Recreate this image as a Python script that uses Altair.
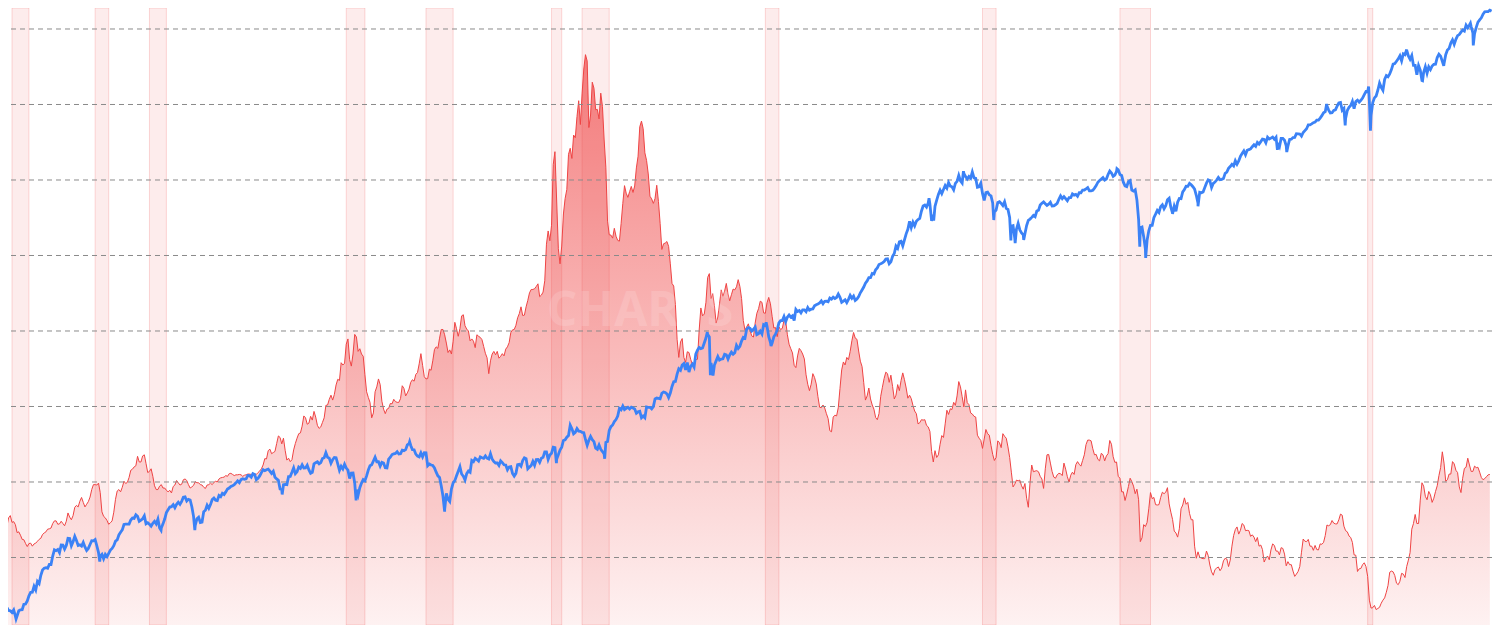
import altair as alt
import pandas as pd

# ---------------- 10-year Treasury yield, monthly (%), Apr 1953 -> Feb 2026 ----------------
yield_1950s = [2.83,3.05,3.11,2.93,2.95,2.87,2.66,2.68,2.59,
    2.48,2.47,2.37,2.29,2.37,2.38,2.30,2.36,2.38,2.43,2.48,2.51,
    2.61,2.65,2.68,2.75,2.76,2.78,2.90,2.97,2.97,2.88,2.89,2.96,
    2.90,2.84,2.96,3.18,3.07,3.00,3.11,3.33,3.38,3.34,3.49,3.59,
    3.46,3.34,3.41,3.48,3.60,3.80,3.93,3.93,3.92,3.97,3.72,3.21,
    3.09,3.05,2.98,2.88,2.92,2.97,3.20,3.54,3.76,3.80,3.74,3.86,
    4.02,3.96,3.99,4.12,4.31,4.34,4.40,4.43,4.68,4.53,4.53,4.69]
yield_1960s = [4.72,4.49,4.25,4.28,4.35,4.15,3.90,3.80,3.80,3.89,3.93,3.84,
    3.84,3.78,3.74,3.78,3.71,3.88,3.92,4.04,3.98,3.92,3.94,4.06,
    4.08,4.04,3.93,3.84,3.87,3.91,4.01,3.98,3.98,3.93,3.92,3.86,
    3.83,3.92,3.93,3.97,3.93,3.99,4.02,4.00,4.08,4.11,4.12,4.13,
    4.17,4.15,4.22,4.23,4.20,4.17,4.19,4.19,4.20,4.19,4.15,4.18,
    4.19,4.21,4.21,4.20,4.21,4.21,4.20,4.25,4.29,4.35,4.45,4.62,
    4.61,4.83,4.87,4.75,4.78,4.81,5.02,5.22,5.18,5.01,5.16,4.84,
    4.58,4.63,4.54,4.59,4.85,5.02,5.16,5.28,5.30,5.48,5.75,5.70,
    5.53,5.56,5.74,5.64,5.87,5.72,5.50,5.42,5.46,5.58,5.70,6.03,
    6.04,6.19,6.30,6.17,6.32,6.57,6.72,6.69,7.16,7.10,7.14,7.65]
yield_1970s = [7.79,7.24,7.07,7.39,7.91,7.84,7.46,7.53,7.39,7.33,6.84,6.39,
    6.24,6.11,5.70,5.83,6.39,6.52,6.73,6.58,6.14,5.93,5.81,5.93,
    5.95,6.08,6.07,6.19,6.13,6.11,6.11,6.21,6.55,6.48,6.28,6.36,
    6.46,6.64,6.71,6.67,6.85,6.90,7.13,7.40,7.09,6.79,6.73,6.74,
    6.99,6.96,7.21,7.51,7.58,7.54,7.81,8.04,8.04,7.90,7.68,7.43,
    7.50,7.39,7.73,8.23,8.06,7.86,8.06,8.40,8.43,8.14,8.05,8.00,
    7.74,7.79,7.73,7.56,7.90,7.86,7.83,7.77,7.59,7.41,7.29,6.87,
    7.21,7.39,7.46,7.37,7.46,7.28,7.33,7.40,7.34,7.52,7.58,7.69,
    7.96,8.03,8.04,8.15,8.35,8.46,8.64,8.41,8.42,8.64,8.81,9.01,
    9.10,9.10,9.12,9.18,9.25,8.91,8.95,9.03,9.33,10.30,10.65,10.39]
yield_1980s = [10.80,12.41,12.75,11.47,10.18,9.78,10.25,11.10,11.51,11.75,12.68,12.84,
    12.57,13.19,13.12,13.68,14.10,13.47,14.28,14.94,15.32,15.15,13.39,13.72,
    14.59,14.43,13.86,13.87,13.62,14.30,13.95,13.06,12.34,10.91,10.55,10.54,
    10.46,10.72,10.51,10.40,10.38,10.85,11.38,11.85,11.65,11.54,11.69,11.83,
    11.67,11.84,12.32,12.63,13.41,13.56,13.36,12.72,12.52,12.16,11.57,11.50,
    11.38,11.51,11.86,11.43,10.85,10.16,10.31,10.33,10.37,10.24,9.78,9.26,
    9.19,8.70,7.78,7.30,7.71,7.80,7.30,7.17,7.45,7.43,7.25,7.11,
    7.08,7.25,7.25,8.02,8.61,8.40,8.45,8.76,9.42,9.52,8.86,8.99,
    8.67,8.21,8.37,8.72,9.09,8.92,9.06,9.26,8.98,8.80,8.96,9.11,
    9.09,9.17,9.36,9.18,8.86,8.28,8.02,8.11,8.19,8.01,7.87,7.84]
yield_1990s = [8.21,8.47,8.59,8.79,8.76,8.48,8.47,8.75,8.89,8.72,8.39,8.08,
    8.09,7.85,8.11,8.04,8.07,8.28,8.27,7.90,7.65,7.53,7.42,7.09,
    7.03,7.34,7.54,7.48,7.39,7.26,6.84,6.59,6.42,6.59,6.87,6.77,
    6.60,6.26,5.98,5.97,6.04,5.96,5.81,5.68,5.36,5.33,5.72,5.77,
    5.75,5.97,6.48,6.97,7.18,7.10,7.30,7.24,7.46,7.74,7.96,7.81,
    7.78,7.47,7.20,7.06,6.63,6.17,6.28,6.49,6.20,6.04,5.93,5.71,
    5.65,5.81,6.27,6.51,6.74,6.91,6.87,6.64,6.83,6.53,6.20,6.30,
    6.58,6.42,6.69,6.89,6.71,6.49,6.22,6.30,6.21,6.03,5.88,5.81,
    5.54,5.57,5.65,5.64,5.65,5.50,5.46,5.34,4.81,4.53,4.83,4.65,
    4.72,5.00,5.23,5.18,5.54,5.90,5.79,5.94,5.92,6.11,6.03,6.28]
yield_2000s = [6.66,6.52,6.26,5.99,6.44,6.10,6.05,5.83,5.80,5.74,5.72,5.24,
    5.16,5.10,4.89,5.14,5.39,5.28,5.24,4.97,4.73,4.57,4.65,5.09,
    5.04,4.91,5.28,5.21,5.16,4.93,4.65,4.26,3.87,3.94,4.05,4.03,
    4.05,3.90,3.81,3.96,3.57,3.33,3.98,4.45,4.27,4.29,4.30,4.27,
    4.15,4.08,3.83,4.35,4.72,4.73,4.50,4.28,4.13,4.10,4.19,4.23,
    4.22,4.17,4.50,4.34,4.14,4.00,4.18,4.26,4.20,4.46,4.54,4.47,
    4.42,4.57,4.72,4.99,5.11,5.11,5.09,4.88,4.72,4.73,4.60,4.56,
    4.76,4.72,4.56,4.69,4.75,5.10,5.00,4.67,4.52,4.53,4.15,4.10,
    3.74,3.74,3.51,3.68,3.88,4.10,4.01,3.89,3.69,3.81,3.53,2.42,
    2.52,2.87,2.82,2.93,3.29,3.72,3.56,3.59,3.40,3.39,3.40,3.59]
yield_2010s = [3.73,3.69,3.73,3.85,3.42,3.20,3.01,2.70,2.65,2.54,2.76,3.29,
    3.39,3.58,3.41,3.46,3.17,3.00,3.00,2.30,1.98,2.15,2.01,1.98,
    1.97,1.97,2.17,2.05,1.80,1.62,1.53,1.68,1.72,1.75,1.65,1.72,
    1.91,1.98,1.96,1.76,1.93,2.30,2.58,2.74,2.81,2.62,2.72,2.90,
    2.86,2.71,2.72,2.71,2.56,2.60,2.54,2.42,2.53,2.30,2.33,2.21,
    1.88,1.98,2.04,1.94,2.20,2.36,2.32,2.17,2.17,2.07,2.26,2.24,
    2.09,1.78,1.89,1.81,1.81,1.64,1.50,1.56,1.63,1.76,2.14,2.49,
    2.43,2.42,2.48,2.30,2.30,2.19,2.32,2.21,2.20,2.36,2.35,2.40,
    2.58,2.86,2.84,2.87,2.98,2.91,2.89,2.89,3.00,3.15,3.12,2.83,
    2.71,2.68,2.57,2.53,2.40,2.07,2.06,1.63,1.70,1.71,1.81,1.86]
yield_2020s = [1.76,1.50,0.87,0.66,0.67,0.73,0.62,0.65,0.68,0.79,0.87,0.93,
    1.08,1.26,1.61,1.64,1.62,1.52,1.32,1.28,1.37,1.58,1.56,1.47,
    1.76,1.93,2.13,2.75,2.90,3.14,2.90,2.90,3.52,3.98,3.89,3.62,
    3.53,3.75,3.66,3.46,3.57,3.75,3.90,4.17,4.38,4.80,4.50,4.02,
    4.06,4.21,4.21,4.54,4.48,4.31,4.25,3.87,3.72,4.10,4.36,4.39,
    4.63,4.45,4.28,4.28,4.42,4.38,4.39,4.26,4.12,4.06,4.09,4.14,
    4.19,4.20]
yield_start = 1953.25  # first monthly observation (Apr 1953)

# ---------------- S&P 500, month-end closes, Mar 1953 -> Jan 2026 ----------------
spx_1950s = [25.29,24.62,24.54,24.14,24.75,23.32,23.35,24.54,24.76,24.81,
    26.08,26.15,26.94,28.26,29.19,29.21,30.88,29.83,32.31,31.68,34.24,35.98,
    36.63,36.76,36.58,37.96,37.91,41.03,43.52,43.18,43.67,42.34,45.51,45.48,
    43.82,45.34,48.48,48.38,45.20,46.97,49.39,47.51,45.35,45.58,45.08,46.67,
    44.72,43.26,44.11,45.74,47.43,47.37,47.91,45.22,42.42,41.06,41.72,39.99,
    41.70,40.84,42.10,43.44,44.09,45.24,47.19,47.75,50.06,51.33,52.48,55.21,
    55.42,55.41,55.44,57.59,58.68,58.47,60.51,59.60,56.88,57.52,58.28,59.89]
spx_1960s = [55.61,56.12,55.34,54.37,55.83,56.92,55.51,58.07,53.39,53.39,55.54,58.11,
    61.78,63.44,65.06,65.31,66.56,64.64,66.76,68.07,66.73,68.62,71.32,71.55,
    68.84,69.96,69.55,65.24,59.63,54.75,58.23,59.12,56.27,56.52,62.26,63.10,
    66.20,64.29,66.57,69.80,70.80,69.37,69.13,72.50,71.70,74.01,73.23,75.02,
    77.04,77.80,78.98,79.46,80.37,81.69,83.18,81.83,84.18,84.86,84.42,84.75,
    87.56,87.43,86.16,89.11,88.42,84.12,85.25,87.17,89.96,92.42,91.61,92.43,
    92.88,91.22,89.23,91.06,86.13,84.74,83.60,77.10,76.56,80.20,80.45,80.33,
    86.61,86.78,90.20,94.01,89.08,90.64,94.75,93.64,96.71,93.90,94.00,96.47,
    92.24,89.36,90.20,97.59,98.68,99.58,97.74,98.86,102.67,103.41,108.37,103.86,
    103.01,98.13,101.51,103.69,103.46,97.71,91.83,95.51,93.12,97.24,93.81,92.06]
spx_1970s = [85.02,89.50,89.63,81.52,76.55,72.72,78.05,81.52,84.21,83.25,87.20,92.15,
    95.88,96.75,100.31,103.95,99.63,99.70,95.58,99.03,98.34,94.23,93.99,102.09,
    103.94,106.57,107.20,107.67,109.53,107.14,107.39,111.09,110.55,111.58,116.67,118.05,
    116.03,111.68,111.52,106.97,104.95,104.26,108.22,104.25,108.43,108.29,95.96,97.55,
    96.57,96.22,93.98,90.31,87.28,86.00,79.31,72.15,63.54,73.90,69.97,68.56,
    76.98,81.59,83.36,87.30,91.15,95.19,88.75,86.88,83.87,89.04,91.24,90.19,
    100.86,99.71,102.77,101.64,100.18,104.28,103.44,102.91,105.24,102.90,102.10,107.46,
    102.03,99.82,98.42,98.44,96.12,100.48,98.85,96.77,96.53,92.34,94.83,95.10,
    89.25,87.04,89.21,96.83,97.24,95.53,100.68,103.29,102.54,93.15,94.70,96.11,
    99.93,96.28,101.59,101.76,99.08,102.91,103.81,109.32,109.32,101.82,106.16,107.94]
spx_1980s = [114.16,113.66,102.09,106.29,111.24,114.24,121.67,122.38,125.46,127.47,140.52,135.76,
    129.55,131.27,136.00,132.81,132.59,131.21,130.92,122.79,116.18,121.89,126.35,122.55,
    120.40,113.11,111.96,116.44,111.88,109.61,107.09,119.51,120.42,133.71,138.54,140.64,
    145.30,148.06,152.96,164.42,162.39,168.11,162.56,164.40,166.07,163.55,166.40,164.93,
    163.41,157.06,159.18,160.05,150.55,153.18,150.66,166.68,166.10,166.09,163.58,167.24,
    179.63,181.18,180.66,179.83,189.55,191.85,190.92,188.63,182.08,189.82,202.17,211.28,
    211.78,226.92,238.90,235.52,247.35,250.84,236.12,252.93,231.32,243.98,249.22,242.17,
    274.08,284.20,291.70,288.36,290.10,304.00,318.66,329.80,321.83,251.79,230.30,247.08,
    257.07,267.82,258.89,261.33,262.16,273.50,272.02,261.52,271.91,278.97,273.70,277.72,
    297.47,288.86,294.87,309.64,320.52,317.98,346.08,351.45,349.15,340.36,345.99,353.40]
spx_1990s = [329.08,331.89,339.94,330.80,361.23,358.02,356.15,322.56,306.05,304.00,322.22,330.22,
    343.93,367.07,375.22,375.34,389.83,371.16,387.81,395.43,387.86,392.46,375.22,417.09,
    408.79,412.70,403.69,414.95,415.35,408.14,424.21,414.03,417.80,418.68,431.35,435.71,
    438.78,443.38,451.67,440.19,450.19,450.53,448.13,463.56,458.93,467.83,461.79,466.45,
    481.61,467.14,445.77,450.91,456.50,444.27,458.26,475.49,462.69,472.35,453.69,459.27,
    470.42,487.39,500.71,514.71,533.40,544.75,562.06,561.88,584.41,581.50,605.37,615.93,
    636.02,640.43,645.50,654.17,669.12,670.63,639.95,651.99,687.33,705.27,757.02,740.74,
    786.16,790.82,757.12,801.34,848.28,885.14,954.31,899.47,947.28,914.62,955.40,970.43,
    980.28,1049.34,1101.75,1111.75,1090.82,1133.84,1120.67,957.28,1017.01,1098.67,1163.63,1229.23,
    1279.64,1238.33,1286.37,1335.18,1301.84,1372.71,1328.72,1320.41,1282.71,1362.93,1388.91,1469.25]
spx_2000s = [1394.46,1366.42,1498.58,1452.43,1420.60,1454.60,1430.83,1517.68,1436.51,1429.40,1314.95,1320.28,
    1366.01,1239.94,1160.33,1249.46,1255.82,1224.38,1211.23,1133.58,1040.94,1059.78,1139.45,1148.08,
    1130.20,1106.73,1147.39,1076.92,1067.14,989.82,911.62,916.07,815.28,885.76,936.31,879.82,
    855.70,841.15,848.18,916.92,963.59,974.50,990.31,1008.01,995.97,1050.71,1058.20,1111.92,
    1131.13,1144.94,1126.21,1107.30,1120.68,1140.84,1101.72,1104.24,1114.58,1130.20,1173.82,1211.92,
    1181.27,1203.60,1180.59,1156.85,1191.50,1191.33,1234.18,1220.33,1228.81,1207.01,1249.48,1248.29,
    1280.08,1280.66,1294.87,1310.61,1270.09,1270.20,1276.66,1303.82,1335.85,1377.94,1400.63,1418.30,
    1438.24,1406.82,1420.86,1482.37,1530.62,1503.35,1455.27,1473.99,1526.75,1549.38,1481.14,1468.36,
    1378.55,1330.63,1322.70,1385.59,1400.38,1280.00,1267.38,1282.83,1166.36,968.75,896.24,903.25,
    825.88,735.09,797.87,872.81,919.14,919.32,987.48,1020.62,1057.08,1036.19,1095.63,1115.10]
spx_2010s = [1073.87,1104.49,1169.43,1186.69,1089.41,1030.71,1101.60,1049.33,1141.20,1183.26,1180.55,1257.64,
    1286.12,1327.22,1325.83,1363.61,1345.20,1320.64,1292.28,1218.89,1131.42,1253.30,1246.96,1257.60,
    1312.41,1365.68,1408.47,1397.91,1310.33,1362.16,1379.32,1406.58,1440.67,1412.16,1416.18,1426.19,
    1498.11,1514.68,1569.19,1597.57,1630.74,1606.28,1685.73,1632.97,1681.55,1756.54,1805.81,1848.36,
    1782.59,1859.45,1872.34,1883.95,1923.57,1960.23,1930.67,2003.37,1972.29,2018.05,2067.56,2058.90,
    1994.99,2104.50,2067.89,2085.51,2107.39,2063.11,2103.84,1972.18,1920.03,2079.36,2080.41,2043.94,
    1940.24,1932.23,2059.74,2065.30,2096.95,2098.86,2173.60,2170.95,2168.27,2126.15,2198.81,2238.83,
    2278.87,2363.64,2362.72,2384.20,2411.80,2423.41,2470.30,2471.65,2519.36,2575.26,2647.58,2673.61,
    2823.81,2713.83,2640.87,2648.05,2705.27,2718.37,2816.29,2901.52,2913.98,2711.74,2760.17,2506.85,
    2704.10,2784.49,2834.40,2945.83,2752.06,2941.76,2980.38,2926.46,2976.74,3037.56,3140.98,3230.78]
spx_2020s = [3225.52,2954.22,2584.59,2912.43,3044.31,3100.29,3271.12,3500.31,3363.00,3269.96,3621.63,3756.07,
    3714.24,3811.15,3972.89,4181.17,4204.11,4297.50,4395.26,4522.68,4307.54,4605.38,4567.00,4766.18,
    4515.55,4373.94,4530.41,4131.93,4132.15,3785.38,4130.29,3955.00,3585.62,3871.98,4080.11,3839.50,
    4076.60,3970.15,4109.31,4169.48,4179.83,4450.38,4588.96,4507.66,4288.05,4193.80,4567.80,4769.83,
    4845.65,5096.27,5254.35,5035.69,5277.51,5460.48,5522.30,5648.40,5762.48,5705.45,6032.38,5881.63,
    6040.53,5954.50,5611.85,5569.06,5911.69,6204.95,6339.39,6460.26,6688.46,6840.20,6849.09,6845.50,
    6939.03]
spx_start = 1953.25  # end of Mar 1953

# intra-month highs / lows visible as spikes on the line
spike_t = [1953.70,1957.81,1960.82,1962.48,1966.77,1970.40,1973.03,1974.75,1980.24,1982.61,
           1987.65,1987.80,1987.93,1990.54,1990.78,1998.54,1998.77,2000.23,2001.72,2002.56,
           2002.77,2003.19,2007.77,2008.89,2009.18,2010.50,2011.75,2015.65,2016.11,2018.07,
           2018.98,2020.13,2020.22,2022.00,2022.78,2023.82,2025.13,2025.27,2026.17]
spike_v = [22.71,38.98,52.30,52.32,73.20,69.29,120.24,62.28,98.22,102.42,
           336.77,224.84,223.92,368.95,295.46,1186.75,959.44,1527.46,965.80,797.70,
           776.76,800.73,1565.15,752.44,676.53,1022.58,1099.23,1867.61,1829.08,2872.87,
           2351.10,3386.15,2237.40,4796.56,3577.03,4117.37,6144.15,4982.77,6880.00]

# NBER recessions (start, end) in decimal years
rec_start = [1953.500,1957.583,1960.250,1969.917,1973.833,1980.000,1981.500,1990.500,2001.167,2007.917,2020.083]
rec_end   = [1954.333,1958.250,1961.083,1970.833,1975.167,1980.500,1982.833,1991.167,2001.833,2009.417,2020.333]

grid_vals = [2, 4, 6, 8, 10, 12, 14, 16]
watermark = ["CHARTS"]

# ---------------- frames ----------------
yields = yield_1950s + yield_1960s + yield_1970s + yield_1980s + yield_1990s + yield_2000s + yield_2010s + yield_2020s
red_df = pd.DataFrame({"t": [yield_start + i / 12 for i in range(len(yields))], "v": yields})

spx = spx_1950s + spx_1960s + spx_1970s + spx_1980s + spx_1990s + spx_2000s + spx_2010s + spx_2020s
blue_df = pd.DataFrame({"t": [spx_start + i / 12 for i in range(len(spx))] + spike_t,
                        "v": spx + spike_v}).sort_values("t").reset_index(drop=True)

rec_df = pd.DataFrame({"start": rec_start, "end": rec_end})
grid_df = pd.DataFrame({"g": grid_vals})
wm_df = pd.DataFrame({"label": watermark})

# plot area = whole chart, placed at the page's 8px margin; nothing may grow the view
W, H = 1484, 617
xs = alt.Scale(domain=[1953.304, 2026.19], nice=False, zero=False)
ys = alt.Scale(domain=[0.212, 16.556], nice=False, zero=False)
bs = alt.Scale(type="log", domain=[21.47, 7086], nice=False)

grad = alt.Gradient(
    gradient="linear",
    stops=[alt.GradientStop(color="rgba(239,68,68,0.95)", offset=0),
           alt.GradientStop(color="rgba(239,68,68,0.52)", offset=0.52),
           alt.GradientStop(color="rgba(239,68,68,0.09)", offset=1)],
    x1=1, x2=1, y1=0, y2=1,
)

area = alt.Chart(red_df).mark_area(
    color=grad, line={"color": "#ef4444", "strokeWidth": 1}, clip=True
).encode(
    x=alt.X("t:Q", scale=xs, axis=None),
    y=alt.Y("v:Q", scale=ys, axis=None),
    y2=alt.value(H),
)

bands = alt.Chart(rec_df).mark_rect(
    fill="#ef4444", fillOpacity=0.1, stroke="#ef4444", strokeOpacity=0.2, strokeWidth=1, clip=True
).encode(
    x=alt.X("start:Q", scale=xs, axis=None),
    x2="end:Q",
)

grid = alt.Chart(grid_df).mark_rule(
    color="#8a8a8a", strokeDash=[5, 4], strokeWidth=1, clip=True
).encode(y=alt.Y("g:Q", scale=ys, axis=None))

wm = alt.Chart(wm_df).mark_text(
    font="Open Sans", fontSize=48, fontWeight="bold", color="white", opacity=0.14,
    align="center", baseline="alphabetic"
).encode(text="label:N", x=alt.value(632), y=alt.value(318))

blue = alt.Chart(blue_df).mark_line(color="#3b82f6", strokeWidth=2.8, clip=True).encode(
    x=alt.X("t:Q", scale=xs, axis=None),
    y=alt.Y("v:Q", scale=bs, axis=None),
)

chart = alt.layer(area, bands, grid, wm, blue).resolve_scale(y="independent").properties(
    width=W, height=H, background="white",
    padding={"left": 0, "right": 0, "top": 0, "bottom": 0},
    autosize=alt.AutoSizeParams(type="none"),
).configure(
    padding={"left": 0, "right": 0, "top": 0, "bottom": 0}
).configure_view(stroke=None)

chart.save("out.html", embed_options={"renderer": "svg", "actions": False})
